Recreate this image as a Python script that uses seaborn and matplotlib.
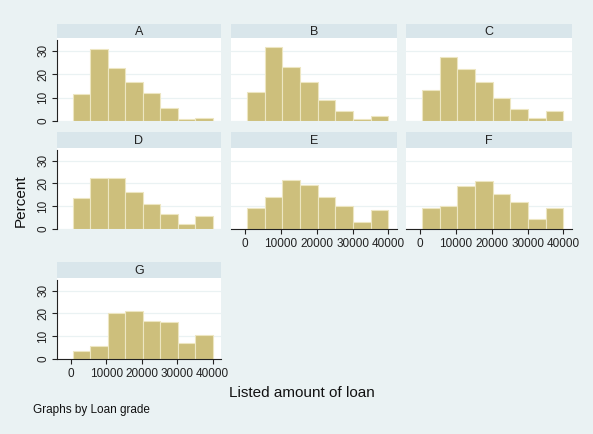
import numpy as np
import pandas as pd
import matplotlib
matplotlib.use("Agg")
import matplotlib.pyplot as plt
import seaborn as sns

# bin edges of the loan amount histogram (8 bins, 500 to 40000)
bin_edges = list(np.linspace(500, 40000, 9))
grades = ['A', 'B', 'C', 'D', 'E', 'F', 'G']
pct_A = [11.4, 30.9, 22.5, 16.8, 11.9, 5.4, 0.7, 1.2]
pct_B = [12.5, 31.7, 23.3, 16.5, 9.0, 4.3, 0.9, 2.2]
pct_C = [13.3, 27.4, 22.3, 16.8, 9.7, 5.2, 1.3, 4.3]
pct_D = [13.5, 22.5, 22.3, 16.2, 11.0, 6.5, 2.0, 5.7]
pct_E = [9.4, 14.2, 21.4, 19.3, 14.2, 9.9, 3.2, 8.4]
pct_F = [9.1, 10.0, 19.0, 21.2, 15.4, 12.0, 4.5, 9.0]
pct_G = [3.5, 5.8, 20.3, 20.9, 16.7, 16.4, 6.8, 10.4]
y_ticks = [0, 10, 20, 30]
x_ticks = [0, 10000, 20000, 30000, 40000]

pcts = dict(zip(grades, [pct_A, pct_B, pct_C, pct_D, pct_E, pct_F, pct_G]))
centers = [(a + b) / 2 for a, b in zip(bin_edges[:-1], bin_edges[1:])]
rows = []
for g in grades:
    for c, p in zip(centers, pcts[g]):
        rows.append((g, c, p))
df = pd.DataFrame(rows, columns=['grade', 'amount', 'pct'])

sns.set_style('white')
plt.rcParams['font.family'] = ['Liberation Sans', 'DejaVu Sans']

bg = '#EAF2F3'
strip_c = '#D9E6EB'
bar_c = '#CDBF7C'
W, H = 593, 434
fig = plt.figure(figsize=(W / 100, H / 100), dpi=100, facecolor=bg)

col_x = [(57, 221), (231, 397), (406, 572)]
row_y = [(24, 38, 121), (132, 148, 229), (262, 278, 359)]
pos = {'A': (0, 0), 'B': (0, 1), 'C': (0, 2), 'D': (1, 0), 'E': (1, 1), 'F': (1, 2), 'G': (2, 0)}
show_x = {'E', 'F', 'G'}

for g in grades:
    r, c = pos[g]
    x0, x1 = col_x[c]
    s0, p0, p1 = row_y[r]
    sax = fig.add_axes([x0 / W, 1 - p0 / H, (x1 - x0) / W, (p0 - s0) / H])
    sax.set_facecolor(strip_c)
    sax.set_xticks([]); sax.set_yticks([])
    for sp in sax.spines.values():
        sp.set_visible(False)
    sax.text(0.5, 0.45, g, ha='center', va='center', fontsize=9, color='#222222')

    ax = fig.add_axes([x0 / W, 1 - p1 / H, (x1 - x0) / W, (p1 - p0) / H])
    ax.set_facecolor('white')
    sub = df[df['grade'] == g]
    sns.histplot(data=sub, x='amount', weights='pct', bins=bin_edges, ax=ax,
                 color=bar_c, alpha=1, edgecolor='#EDE6C2', linewidth=0.8)
    ax.set_xlim(-4000, 42400)
    ax.set_ylim(0, 35.5)
    ax.set_yticks(y_ticks)
    ax.grid(axis='y', color=bg, linewidth=0.9)
    ax.set_axisbelow(True)
    ax.set_xlabel(''); ax.set_ylabel('')
    for sp in ax.spines.values():
        sp.set_visible(False)
    if c == 0:
        ax.spines['left'].set_visible(True)
        ax.spines['left'].set_color('#222222')
        ax.spines['left'].set_linewidth(0.8)
        ax.spines['left'].set_bounds(0, 34.5)
        ax.tick_params(axis='y', left=True, length=3.5, width=0.8, labelsize=8.5,
                       colors='#222222', labelrotation=90, pad=2)
        for lbl in ax.get_yticklabels():
            lbl.set_va('center')
    else:
        ax.tick_params(axis='y', left=False, labelleft=False)
    if g in show_x:
        ax.spines['bottom'].set_visible(True)
        ax.spines['bottom'].set_color('#222222')
        ax.spines['bottom'].set_linewidth(0.8)
        ax.set_xticks(x_ticks)
        ax.tick_params(axis='x', bottom=True, length=3.5, width=0.8, labelsize=8.5,
                       colors='#222222', pad=3)
    else:
        ax.set_xticks([])

fig.text(21 / W, 1 - 201 / H, 'Percent', rotation=90, ha='center', va='center',
         fontsize=11, color='#111111')
fig.text(302 / W, 1 - 393 / H, 'Listed amount of loan', ha='center', va='center',
         fontsize=11, color='#111111')
fig.text(33 / W, 1 - 410 / H, 'Graphs by Loan grade', ha='left', va='center',
         fontsize=8.5, color='#111111')

fig.savefig('out.png', dpi=100, facecolor=bg)
